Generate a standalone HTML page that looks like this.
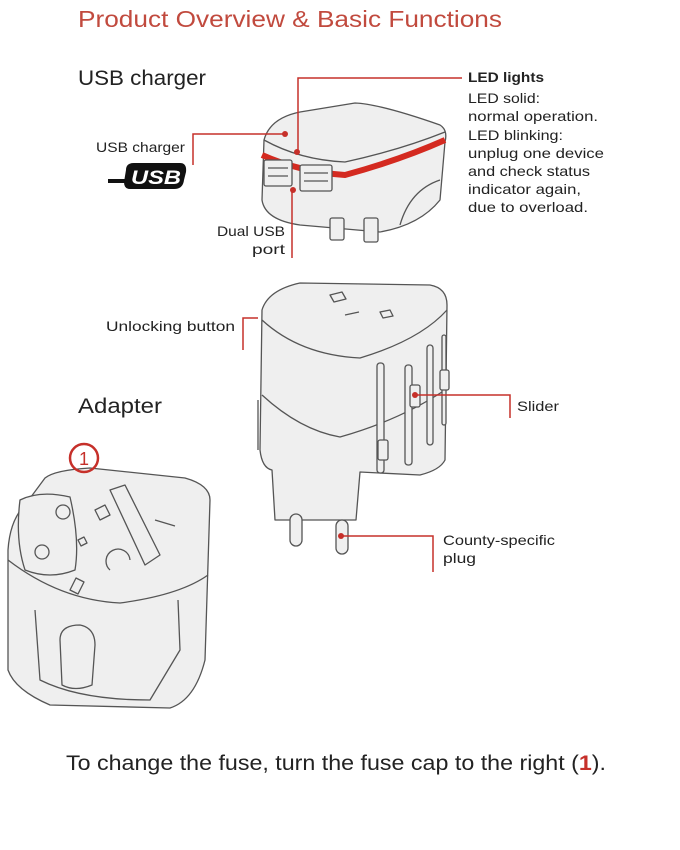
<!DOCTYPE html>
<html><head><meta charset="utf-8"><style>
html,body{margin:0;padding:0;background:#fff}
svg{display:block}
text{font-family:"Liberation Sans",sans-serif}
</style></head><body>
<svg width="680" height="850" viewBox="0 0 680 850" xmlns="http://www.w3.org/2000/svg">
<rect width="680" height="850" fill="#fff"/>
<text x="78" y="27" font-size="23" fill="#c14a3e" textLength="424" lengthAdjust="spacingAndGlyphs">Product Overview &amp; Basic Functions</text>
<text x="78" y="85" font-size="21" fill="#222" textLength="128" lengthAdjust="spacingAndGlyphs">USB charger</text>

<g font-size="14" fill="#222">
<text x="468" y="82" font-weight="bold" textLength="76" lengthAdjust="spacingAndGlyphs">LED lights</text>
<text x="468" y="103" textLength="72" lengthAdjust="spacingAndGlyphs">LED solid:</text>
<text x="468" y="121" textLength="130" lengthAdjust="spacingAndGlyphs">normal operation.</text>
<text x="468" y="140" textLength="95" lengthAdjust="spacingAndGlyphs">LED blinking:</text>
<text x="468" y="158" textLength="136" lengthAdjust="spacingAndGlyphs">unplug one device</text>
<text x="468" y="176" textLength="122" lengthAdjust="spacingAndGlyphs">and check status</text>
<text x="468" y="194" textLength="113" lengthAdjust="spacingAndGlyphs">indicator again,</text>
<text x="468" y="212" textLength="120" lengthAdjust="spacingAndGlyphs">due to overload.</text>
<text x="96" y="152" textLength="89" lengthAdjust="spacingAndGlyphs">USB charger</text>
<text x="285" y="236" text-anchor="end" textLength="68" lengthAdjust="spacingAndGlyphs">Dual USB</text>
<text x="285" y="254" text-anchor="end" textLength="33" lengthAdjust="spacingAndGlyphs">port</text>
<text x="106" y="331" textLength="129" lengthAdjust="spacingAndGlyphs">Unlocking button</text>
<text x="517" y="411" textLength="42" lengthAdjust="spacingAndGlyphs">Slider</text>
<text x="443" y="545" textLength="112" lengthAdjust="spacingAndGlyphs">County-specific</text>
<text x="443" y="563" textLength="33" lengthAdjust="spacingAndGlyphs">plug</text>
</g>

<rect x="108" y="179" width="20" height="4" fill="#111"/>
<path d="M126 170 Q126 163 134 163 L180 163 Q187 163 186 172 L184 180 Q183 189 174 189 L130 189 Q124 189 124 182 Z" fill="#111"/>
<text x="131" y="184" font-size="19" font-weight="bold" font-style="italic" fill="#fff" textLength="50" lengthAdjust="spacingAndGlyphs">USB</text>

<g stroke="#555" stroke-width="1.3" fill="#efefef" stroke-linejoin="round">
<path d="M264 140 Q270 118 300 112 L355 103 Q380 104 440 125 Q448 130 445 142 L440 200 Q420 225 380 232 L300 225 Q265 220 262 200 Z"/>
<path d="M264 140 Q300 160 345 162 Q400 150 445 132" fill="none"/>
<path d="M262 155 Q300 172 345 175 Q400 160 445 140" fill="none" stroke="#d42a20" stroke-width="6"/>
<path d="M400 225 Q410 190 440 180" fill="none"/>
<rect x="264" y="160" width="28" height="26" rx="2"/>
<rect x="300" y="165" width="32" height="26" rx="2"/>
<path d="M268 168 h20 M268 176 h20 M304 173 h24 M304 181 h24" fill="none"/>
<rect x="330" y="218" width="14" height="22" rx="2"/>
<rect x="364" y="218" width="14" height="24" rx="2"/>
</g>

<g stroke="#555" stroke-width="1.3" fill="#efefef" stroke-linejoin="round">
<path d="M262 310 Q268 290 300 283 L430 285 Q447 288 447 305 L445 460 Q440 470 420 475 L360 472 L356 520 L275 520 L272 470 Q262 468 260 450 Z"/>
<path d="M262 320 Q300 355 360 358 Q420 340 447 310" fill="none"/>
<path d="M262 395 Q300 430 340 437 Q400 420 445 390" fill="none"/>
<path d="M258 400 L258 450" fill="none"/>
<rect x="290" y="514" width="12" height="32" rx="6"/>
<rect x="336" y="520" width="12" height="34" rx="6"/>
<path d="M330 295 l12 -3 l4 7 l-12 3 Z M345 315 l14 -3 M380 312 l10 -2 l3 6 l-10 2 Z" fill="none"/>
<rect x="377" y="363" width="7" height="110" rx="3"/>
<rect x="405" y="365" width="7" height="100" rx="3"/>
<rect x="427" y="345" width="6" height="100" rx="3"/>
<rect x="442" y="335" width="4" height="90" rx="2"/>
<rect x="378" y="440" width="10" height="20" rx="2"/>
<rect x="410" y="385" width="10" height="22" rx="2"/>
<rect x="440" y="370" width="9" height="20" rx="2"/>
</g>

<g stroke="#555" stroke-width="1.3" fill="#efefef" stroke-linejoin="round">
<path d="M45 478 Q55 470 90 468 L185 478 Q210 485 210 500 L205 660 Q195 700 170 708 L50 705 Q15 690 8 670 L8 550 Q10 520 25 505 Z"/>
<path d="M8 560 Q60 600 120 603 Q180 595 208 575" fill="none"/>
<path d="M35 610 L40 680 Q80 700 150 700 L180 650 L178 600" fill="none"/>
<path d="M20 500 Q40 490 70 497 Q80 540 75 570 Q50 580 25 570 Q15 540 20 500 Z"/>
<circle cx="63" cy="512" r="7"/>
<circle cx="42" cy="552" r="7"/>
<path d="M110 490 L125 485 L160 555 L145 565 Z"/>
<path d="M60 640 Q60 625 80 625 Q95 628 95 645 L92 685 Q75 692 62 685 Z"/>
<path d="M95 510 l10 -5 l5 10 l-10 5 Z M78 540 l6 -3 l3 6 l-6 3 Z M155 520 l20 6 M70 590 l6 -12 l8 4 l-6 12 Z M110 570 a12 12 0 1 1 20 -10" fill="none"/>
</g>

<g stroke="#c6302a" stroke-width="1.5" fill="none">
<path d="M298 150 L298 78 L462 78"/>
<path d="M193 165 L193 134 L285 134"/>
<path d="M292 190 L292 258"/>
<path d="M243 350 L243 318 L258 318"/>
<path d="M415 395 L510 395 L510 418"/>
<path d="M343 536 L433 536 L433 572"/>
</g>
<g fill="#c6302a">
<circle cx="285" cy="134" r="3"/><circle cx="297" cy="152" r="3"/><circle cx="293" cy="190" r="3"/>
<circle cx="415" cy="395" r="3"/><circle cx="341" cy="536" r="3"/>
</g>

<text x="78" y="413" font-size="21" fill="#222" textLength="84" lengthAdjust="spacingAndGlyphs">Adapter</text>
<circle cx="84" cy="458" r="14" fill="none" stroke="#c6302a" stroke-width="2.5"/>
<text x="84" y="465" font-size="18" fill="#c6302a" text-anchor="middle">1</text>

<text x="66" y="770" font-size="21" fill="#222" textLength="540" lengthAdjust="spacingAndGlyphs">To change the fuse, turn the fuse cap to the right (<tspan fill="#c6302a" font-weight="bold">1</tspan>).</text>
</svg>
</body></html>
